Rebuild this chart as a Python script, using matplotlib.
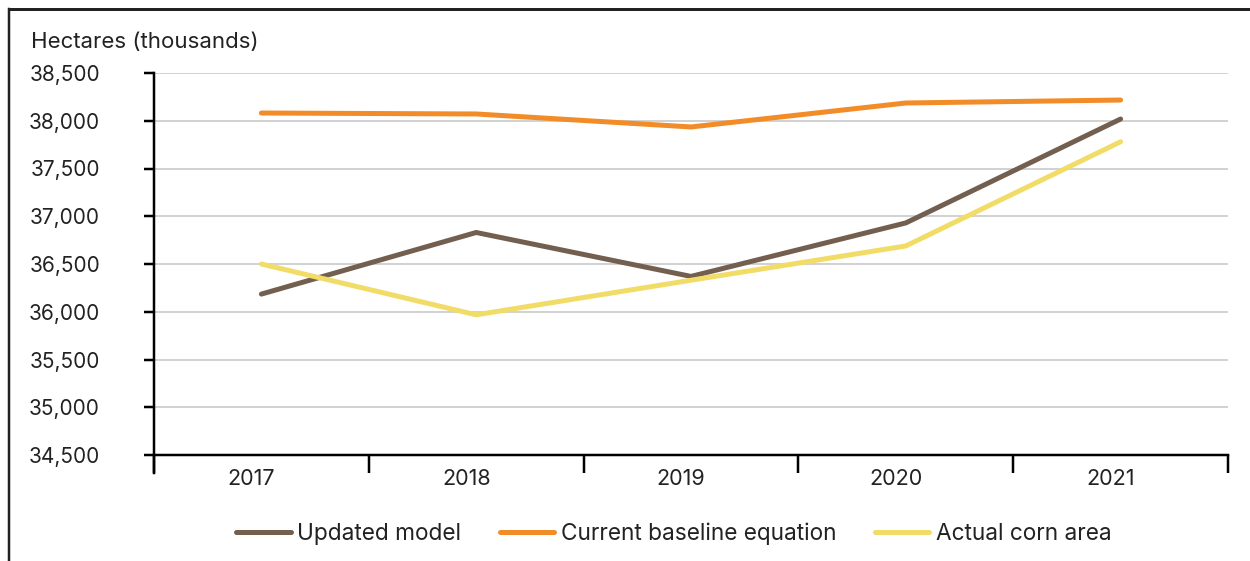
import matplotlib
matplotlib.use("Agg")
import matplotlib.pyplot as plt
import matplotlib.transforms as mtransforms
from matplotlib.lines import Line2D
from matplotlib.ticker import FixedLocator, FuncFormatter

plt.rcParams['font.family'] = ['Inter', 'DejaVu Sans']

years = ["2017", "2018", "2019", "2020", "2021"]
updated_model = [36185, 36830, 36370, 36930, 38018]
current_baseline = [38081, 38071, 37935, 38186, 38217]
actual_corn_area = [36500, 35968, 36330, 36689, 37780]

series_names = ["Updated model", "Current baseline equation", "Actual corn area"]
series_colors = ["#735F4F", "#F28C28", "#F2DC68"]

PX = 0.72  # points per pixel at 100 dpi

fig = plt.figure(figsize=(12.5, 5.61), dpi=100)
ax = fig.add_axes([154 / 1250, 1 - 455 / 561, (1228 - 154) / 1250, (455 - 73) / 561])

x = list(range(len(years)))
for vals, name, col in zip([updated_model, current_baseline, actual_corn_area],
                           series_names, series_colors):
    ax.plot(x, vals, color=col, lw=5 * PX, solid_capstyle='round',
            solid_joinstyle='miter', label=name, zorder=3)

ax.set_xlim(-0.5, len(years) - 0.5)
ax.set_ylim(34500, 38500)
ax.set_yticks(range(34500, 38501, 500))
ax.yaxis.set_major_formatter(FuncFormatter(lambda v, p: f"{int(v):,}"))
for v in range(35000, 38501, 500):
    ax.axhline(v, color="#C8C8C8", lw=1.6 * PX, zorder=1)

# category boundaries carry the tick marks, labels sit at the centres
ax.xaxis.set_major_locator(FixedLocator([i - 0.5 for i in range(len(years) + 1)]))
ax.xaxis.set_major_formatter(FuncFormatter(lambda v, p: ""))
ax.xaxis.set_minor_locator(FixedLocator(x))
ax.set_xticklabels(years, minor=True)
ax.tick_params(axis='x', which='major', length=18 * PX, width=2.5 * PX, color='black',
               direction='out')
ax.tick_params(axis='x', which='minor', length=0, pad=14 * PX, labelsize=15.5,
               labelcolor='#222222')
ax.tick_params(axis='y', which='major', length=10 * PX, width=2.5 * PX, color='black',
               direction='out', pad=44 * PX, labelsize=15, labelcolor='#222222')

# year labels sit slightly left of the category centres
shift = mtransforms.ScaledTranslation(-10 / 100, 0, fig.dpi_scale_trans)
for lab in ax.xaxis.get_minorticklabels():
    lab.set_transform(lab.get_transform() + shift)

for s in ['top', 'right']:
    ax.spines[s].set_visible(False)
ax.spines['left'].set_linewidth(2.5 * PX)
ax.spines['bottom'].set_linewidth(2.5 * PX)
ax.spines['left'].set_bounds(34500 - 4000 * 18 / 382, 38500)

fig.text(31 / 1250, 1 - 42 / 561, "Hectares (thousands)", fontsize=16,
         color='#222222', va='center', ha='left')

handles = [Line2D([0], [0], color=c, lw=5 * PX, solid_capstyle='round') for c in series_colors]
fig.legend(handles, series_names, loc='center', bbox_to_anchor=(674 / 1250, 1 - 534 / 561),
           ncol=3, frameon=False, fontsize=16.3, handlelength=2.4, handletextpad=0.3,
           columnspacing=1.7, labelcolor='#222222')

# outer frame (left and top edges)
fig.add_artist(Line2D([8.5 / 1250, 8.5 / 1250], [0, 1 - 8.5 / 561], color='#222222',
                      lw=2.5 * PX, transform=fig.transFigure))
fig.add_artist(Line2D([8.5 / 1250, 1], [1 - 9 / 561, 1 - 9 / 561], color='#222222',
                      lw=3 * PX, transform=fig.transFigure))

fig.savefig("out.png", dpi=100)
